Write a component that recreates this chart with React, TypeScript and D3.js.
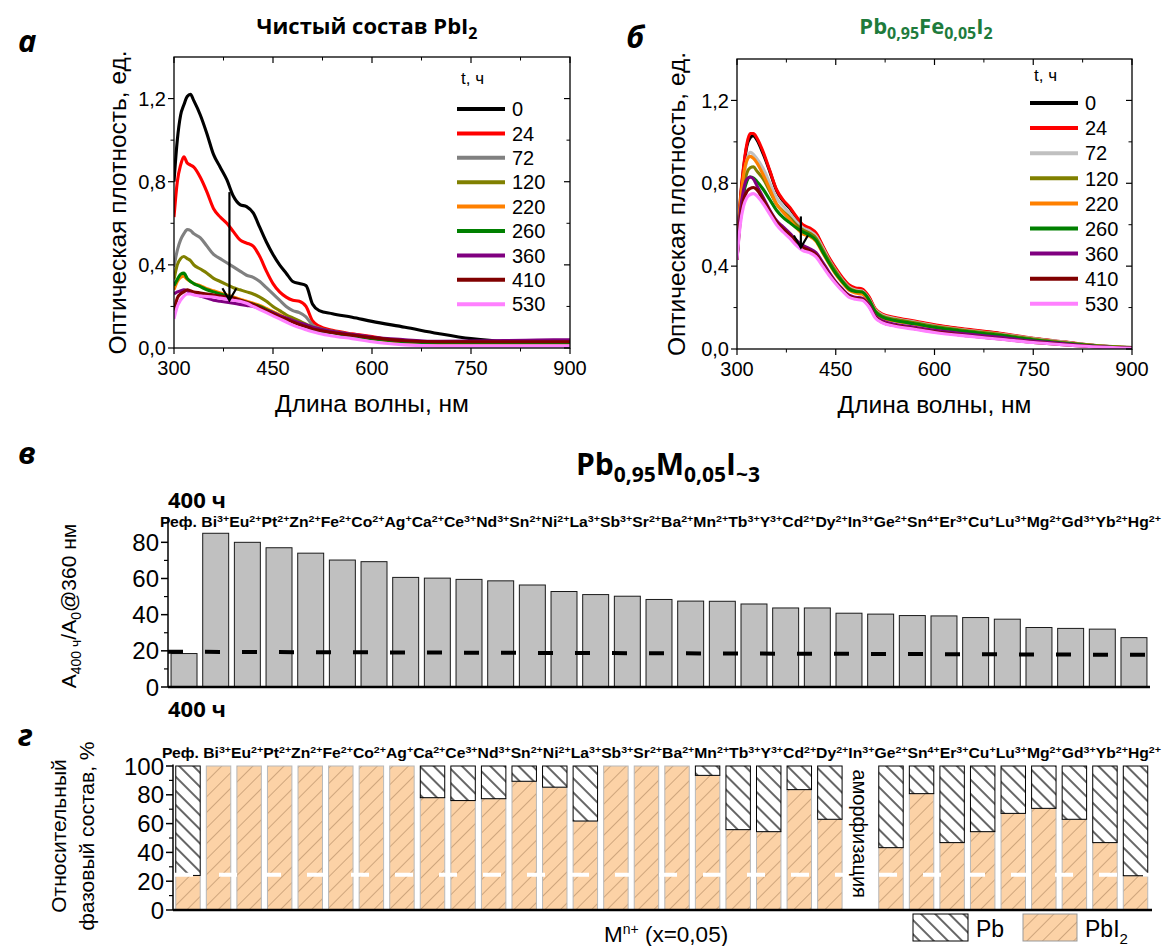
import React from "react";
import * as d3 from "d3";

const W = 1163;
const H = 946;
const ARIAL = "'Liberation Sans', Arial, sans-serif";
const CAL = "'Open Sans', 'Noto Sans', sans-serif";

// ---------- Spectra (panels а, б) ----------
const wl = [300, 305, 310, 315, 320, 325, 330, 340, 350, 360, 370, 380, 390, 400, 410, 420, 430, 440, 450, 460, 470, 480, 490, 500, 510, 520, 540, 570, 600, 650, 700, 750, 800, 850, 900];
const hours = ["0", "24", "72", "120", "220", "260", "360", "410", "530"];
const colorsA = ["#000000", "#ff0000", "#808080", "#808000", "#ff8000", "#008000", "#800080", "#800000", "#ff80ff"];
const colorsB = ["#000000", "#ff0000", "#c0c0c0", "#808000", "#ff8000", "#008000", "#800080", "#800000", "#ff80ff"];

// Panel а: pure PbI2
const a0 = [0.80, 1.00, 1.12, 1.17, 1.21, 1.22, 1.19, 1.12, 1.03, 0.93, 0.87, 0.81, 0.73, 0.69, 0.68, 0.65, 0.58, 0.51, 0.45, 0.40, 0.36, 0.32, 0.31, 0.30, 0.21, 0.18, 0.165, 0.148, 0.128, 0.10, 0.07, 0.045, 0.032, 0.03, 0.03];
const a24 = [0.63, 0.80, 0.88, 0.92, 0.89, 0.88, 0.87, 0.82, 0.75, 0.67, 0.63, 0.60, 0.56, 0.52, 0.505, 0.49, 0.44, 0.37, 0.31, 0.27, 0.245, 0.23, 0.225, 0.20, 0.13, 0.105, 0.085, 0.068, 0.055, 0.028, 0.02, 0.02, 0.022, 0.022, 0.022];
const a72 = [0.39, 0.47, 0.52, 0.55, 0.57, 0.565, 0.55, 0.53, 0.49, 0.45, 0.43, 0.41, 0.39, 0.37, 0.35, 0.34, 0.32, 0.29, 0.26, 0.23, 0.20, 0.18, 0.17, 0.15, 0.11, 0.095, 0.08, 0.065, 0.05, 0.027, 0.02, 0.02, 0.02, 0.02, 0.02];
const a120 = [0.33, 0.40, 0.43, 0.44, 0.43, 0.42, 0.40, 0.38, 0.36, 0.335, 0.32, 0.305, 0.29, 0.28, 0.27, 0.26, 0.245, 0.225, 0.20, 0.18, 0.16, 0.145, 0.13, 0.115, 0.10, 0.092, 0.08, 0.063, 0.048, 0.027, 0.02, 0.02, 0.02, 0.02, 0.02];
const a220 = [0.28, 0.32, 0.34, 0.345, 0.33, 0.32, 0.31, 0.30, 0.285, 0.275, 0.265, 0.255, 0.245, 0.235, 0.225, 0.215, 0.205, 0.19, 0.175, 0.16, 0.145, 0.13, 0.115, 0.105, 0.092, 0.085, 0.075, 0.06, 0.045, 0.028, 0.022, 0.022, 0.022, 0.022, 0.022];
const a260 = [0.30, 0.33, 0.355, 0.36, 0.335, 0.32, 0.31, 0.295, 0.28, 0.27, 0.26, 0.25, 0.24, 0.23, 0.22, 0.21, 0.20, 0.185, 0.17, 0.155, 0.14, 0.128, 0.115, 0.103, 0.09, 0.083, 0.073, 0.058, 0.045, 0.03, 0.025, 0.025, 0.025, 0.025, 0.025];
const a360 = [0.26, 0.27, 0.275, 0.28, 0.275, 0.265, 0.26, 0.25, 0.24, 0.23, 0.225, 0.22, 0.215, 0.21, 0.205, 0.20, 0.19, 0.18, 0.17, 0.155, 0.145, 0.133, 0.122, 0.112, 0.10, 0.092, 0.08, 0.065, 0.052, 0.04, 0.032, 0.033, 0.036, 0.038, 0.04];
const a410 = [0.18, 0.24, 0.26, 0.27, 0.28, 0.275, 0.27, 0.265, 0.26, 0.255, 0.25, 0.245, 0.24, 0.23, 0.22, 0.21, 0.195, 0.18, 0.165, 0.15, 0.138, 0.125, 0.113, 0.103, 0.092, 0.085, 0.075, 0.062, 0.05, 0.035, 0.03, 0.03, 0.03, 0.03, 0.03];
const a530 = [0.14, 0.20, 0.23, 0.25, 0.26, 0.26, 0.255, 0.25, 0.248, 0.245, 0.24, 0.235, 0.23, 0.225, 0.215, 0.20, 0.185, 0.17, 0.155, 0.14, 0.125, 0.11, 0.098, 0.088, 0.078, 0.07, 0.058, 0.045, 0.03, 0.015, 0.01, 0.01, 0.01, 0.01, 0.01];

// Panel б: Pb0.95Fe0.05I2
const b0 = [0.43, 0.71, 0.87, 0.98, 1.02, 1.03, 1.01, 0.94, 0.855, 0.765, 0.715, 0.68, 0.635, 0.595, 0.58, 0.555, 0.495, 0.435, 0.385, 0.34, 0.305, 0.29, 0.285, 0.25, 0.19, 0.165, 0.148, 0.131, 0.114, 0.092, 0.074, 0.05, 0.032, 0.015, 0.006];
const b24 = [0.43, 0.72, 0.88, 0.99, 1.04, 1.04, 1.02, 0.95, 0.86, 0.77, 0.72, 0.685, 0.64, 0.60, 0.585, 0.56, 0.50, 0.44, 0.39, 0.345, 0.31, 0.295, 0.29, 0.255, 0.195, 0.17, 0.152, 0.135, 0.117, 0.095, 0.076, 0.052, 0.033, 0.015, 0.006];
const b72 = [0.43, 0.68, 0.82, 0.91, 0.95, 0.94, 0.92, 0.87, 0.80, 0.73, 0.69, 0.655, 0.615, 0.585, 0.57, 0.545, 0.49, 0.43, 0.38, 0.335, 0.30, 0.285, 0.28, 0.245, 0.19, 0.165, 0.147, 0.13, 0.112, 0.09, 0.072, 0.05, 0.032, 0.016, 0.008];
const b120 = [0.43, 0.66, 0.78, 0.85, 0.875, 0.88, 0.86, 0.82, 0.76, 0.70, 0.665, 0.635, 0.60, 0.575, 0.56, 0.535, 0.48, 0.425, 0.375, 0.33, 0.295, 0.28, 0.275, 0.24, 0.185, 0.16, 0.143, 0.127, 0.11, 0.088, 0.07, 0.048, 0.03, 0.015, 0.007];
const b220 = [0.43, 0.70, 0.84, 0.91, 0.93, 0.92, 0.90, 0.84, 0.77, 0.70, 0.66, 0.625, 0.585, 0.555, 0.545, 0.52, 0.465, 0.41, 0.36, 0.32, 0.285, 0.27, 0.265, 0.23, 0.175, 0.15, 0.135, 0.12, 0.103, 0.082, 0.064, 0.044, 0.028, 0.013, 0.005];
const b260 = [0.43, 0.64, 0.75, 0.81, 0.83, 0.825, 0.81, 0.77, 0.72, 0.67, 0.635, 0.61, 0.585, 0.565, 0.55, 0.525, 0.47, 0.415, 0.365, 0.325, 0.29, 0.278, 0.275, 0.24, 0.18, 0.155, 0.138, 0.122, 0.105, 0.084, 0.066, 0.045, 0.028, 0.013, 0.005];
const b360 = [0.43, 0.66, 0.77, 0.82, 0.83, 0.82, 0.79, 0.73, 0.67, 0.62, 0.59, 0.56, 0.525, 0.50, 0.485, 0.465, 0.42, 0.37, 0.325, 0.29, 0.26, 0.25, 0.245, 0.215, 0.16, 0.137, 0.12, 0.105, 0.09, 0.072, 0.056, 0.038, 0.024, 0.011, 0.004];
const b410 = [0.43, 0.62, 0.72, 0.76, 0.775, 0.78, 0.77, 0.72, 0.665, 0.615, 0.58, 0.55, 0.515, 0.49, 0.475, 0.455, 0.41, 0.36, 0.32, 0.285, 0.255, 0.245, 0.24, 0.21, 0.155, 0.13, 0.113, 0.098, 0.083, 0.064, 0.048, 0.032, 0.02, 0.01, 0.004];
const b530 = [0.43, 0.60, 0.69, 0.73, 0.745, 0.75, 0.74, 0.70, 0.65, 0.60, 0.565, 0.535, 0.50, 0.475, 0.465, 0.445, 0.40, 0.355, 0.315, 0.28, 0.25, 0.24, 0.235, 0.205, 0.15, 0.127, 0.11, 0.095, 0.08, 0.062, 0.047, 0.031, 0.019, 0.009, 0.003];

const seriesA = [a0, a24, a72, a120, a220, a260, a360, a410, a530];
const seriesB = [b0, b24, b72, b120, b220, b260, b360, b410, b530];
const arrowA = [384, 0.75, 0.23]; // wavelength, from, to
const arrowB = [397, 0.64, 0.49];

const xTicksMajor = [300, 450, 600, 750, 900];
const xTicksMinor = [375, 525, 675, 825];
const yTicksMajor = [0, 0.4, 0.8, 1.2];
const yTicksMinor = [0.2, 0.6, 1.0];

// ---------- Panels в, г ----------
const ions = ["Реф.", "Bi", "Eu", "Pt", "Zn", "Fe", "Co", "Ag", "Ca", "Ce", "Nd", "Sn", "Ni", "La", "Sb", "Sr", "Ba", "Mn", "Tb", "Y", "Cd", "Dy", "In", "Ge", "Sn", "Er", "Cu", "Lu", "Mg", "Gd", "Yb", "Hg"];
const charges = ["", "3+", "2+", "2+", "2+", "2+", "2+", "+", "2+", "3+", "3+", "2+", "2+", "3+", "3+", "2+", "2+", "2+", "3+", "3+", "2+", "2+", "3+", "2+", "4+", "3+", "+", "3+", "2+", "3+", "2+", "2+"];
// A400ч/A0 @360 nm, %
const ratioValues = [18.5, 85, 80, 77, 74, 70.2, 69.3, 60.6, 60.2, 59.5, 58.7, 56.4, 52.8, 51.1, 50.2, 48.4, 47.5, 47.4, 45.9, 43.7, 43.7, 40.8, 40.3, 39.5, 39.3, 38.4, 37.5, 32.9, 32.4, 32.0, 27.3];
const ratioRefLine = [19.5, 17.8];
const ratioTicks = [0, 20, 40, 60, 80];
const ratioMinor = [10, 30, 50, 70];
// PbI2 share, % (rest is Pb); null = amorphization
const pbi2Share = [24, 100, 100, 100, 100, 100, 100, 100, 78, 76, 77.3, 89.4, 85.3, 61.8, 100, 100, 100, 93.5, 55.8, 54.4, 83.6, 63, null, 43.3, 80.8, 46.8, 54.4, 67.1, 70.6, 63, 46.8, 23.8];
const phaseRefLine = [24.5, 24.5];
const phaseTicks = [0, 20, 40, 60, 80, 100];
const phaseMinor = [10, 30, 50, 70, 90];

const fmtC = (v) => d3.format(".1f")(v).replace(".", ",");

function Spectrum({ id, left, right, top, bottom, series, colors, legX, legY, legStep, titleY, arrow, labelX }) {
  const x = d3.scaleLinear().domain([300, 900]).range([left, right]);
  const y = d3.scaleLinear().domain([0, 1.4]).range([bottom, top]);
  const line = d3.line().x((_, i) => x(wl[i])).y((d) => y(d)).curve(d3.curveMonotoneX);
  const ax = x(arrow[0]);
  const ay1 = y(arrow[1]);
  const ay2 = y(arrow[2]);
  return (
    <g>
      <defs>
        <clipPath id={id}>
          <rect x={left} y={top} width={right - left} height={bottom - top} />
        </clipPath>
      </defs>
      <g clipPath={`url(#${id})`}>
        {series.map((s, k) => (
          <path key={k} d={line(s)} fill="none" stroke={colors[k]} strokeWidth={3.1} strokeLinejoin="round" />
        ))}
      </g>
      <rect x={left} y={top} width={right - left} height={bottom - top} fill="none" stroke="#000" strokeWidth={1.3} />
      {xTicksMajor.map((t) => (
        <g key={"xM" + t}>
          <line x1={x(t)} x2={x(t)} y1={bottom} y2={bottom + 6} stroke="#000" strokeWidth={1.2} />
          <line x1={x(t)} x2={x(t)} y1={top} y2={top + 6} stroke="#000" strokeWidth={1.2} />
          <text x={x(t)} y={bottom + 27} textAnchor="middle" fontFamily={ARIAL} fontSize={20}>{t}</text>
        </g>
      ))}
      {xTicksMinor.map((t) => (
        <g key={"xm" + t}>
          <line x1={x(t)} x2={x(t)} y1={bottom} y2={bottom + 3.5} stroke="#000" strokeWidth={1} />
          <line x1={x(t)} x2={x(t)} y1={top} y2={top + 3.5} stroke="#000" strokeWidth={1} />
        </g>
      ))}
      {yTicksMajor.map((t) => (
        <g key={"yM" + t}>
          <line x1={left - 6} x2={left} y1={y(t)} y2={y(t)} stroke="#000" strokeWidth={1.2} />
          <line x1={right - 6} x2={right} y1={y(t)} y2={y(t)} stroke="#000" strokeWidth={1.2} />
          <text x={left - 8} y={y(t)} dy="0.36em" textAnchor="end" fontFamily={ARIAL} fontSize={20}>{fmtC(t)}</text>
        </g>
      ))}
      {yTicksMinor.map((t) => (
        <g key={"ym" + t}>
          <line x1={left - 3.5} x2={left} y1={y(t)} y2={y(t)} stroke="#000" strokeWidth={1} />
          <line x1={right - 3.5} x2={right} y1={y(t)} y2={y(t)} stroke="#000" strokeWidth={1} />
        </g>
      ))}
      <text x={(left + right) / 2} y={bottom + 64} textAnchor="middle" fontFamily={ARIAL} fontSize={24.5}>Длина волны, нм</text>
      <text transform={`translate(${labelX},${(top + bottom) / 2}) rotate(-90)`} textAnchor="middle" fontFamily={ARIAL} fontSize={24.5}>Оптическая плотность, ед.</text>
      <line x1={ax} x2={ax} y1={ay1} y2={ay2} stroke="#000" strokeWidth={2.2} />
      <polyline points={`${ax - 7},${ay2 - 12} ${ax},${ay2} ${ax + 7},${ay2 - 12}`} fill="none" stroke="#000" strokeWidth={2.2} />
      <text x={legX + 4} y={titleY} fontFamily={ARIAL} fontSize={17}>t, ч</text>
      {hours.map((h, k) => (
        <g key={"lg" + h}>
          <line x1={legX} x2={legX + 48} y1={legY + k * legStep} y2={legY + k * legStep} stroke={colors[k]} strokeWidth={4} />
          <text x={legX + 55} y={legY + k * legStep} dy="0.36em" fontFamily={ARIAL} fontSize={20}>{h}</text>
        </g>
      ))}
    </g>
  );
}

function IonRow({ x0, width, y }) {
  return (
    <text x={x0} y={y} fontFamily={ARIAL} fontWeight="bold" fontSize={14} textLength={width} lengthAdjust="spacingAndGlyphs">
      {ions.map((n, i) => (
        <React.Fragment key={i}>
          <tspan dy={i > 0 && charges[i - 1] ? 5 : 0} fontSize={14}>{i === 0 ? n + " " : n}</tspan>
          {charges[i] ? <tspan dy={-5} fontSize={9.5}>{charges[i]}</tspan> : null}
        </React.Fragment>
      ))}
    </text>
  );
}

export default function App() {
  // panel в
  const vLeft = 168;
  const vRight = 1150;
  const yV = d3.scaleLinear().domain([0, 94]).range([687, 517]);
  const xV = d3.scaleBand().domain(d3.range(ratioValues.length)).range([168.2, 1149.8]).paddingInner(0.18).paddingOuter(0.09);
  // panel г
  const gLeft = 173;
  const gRight = 1152;
  const yG = d3.scaleLinear().domain([0, 100]).range([910, 766]);
  const xG = d3.scaleBand().domain(d3.range(ions.length)).range([172.7, 1150.8]).paddingInner(0.2).paddingOuter(0.1);
  const amorphIdx = pbi2Share.findIndex((v) => v === null);

  return (
    <svg width={W} height={H} viewBox={`0 0 ${W} ${H}`} style={{ position: "absolute", left: 0, top: 0, background: "#fff" }}>
      <defs>
        <pattern id="pbHatch" patternUnits="userSpaceOnUse" width={10} height={10} patternTransform="rotate(-45)">
          <rect width={10} height={10} fill="#fff" />
          <line x1={5} y1={0} x2={5} y2={10} stroke="#000" strokeWidth={1.2} />
        </pattern>
        <pattern id="pbi2Hatch" patternUnits="userSpaceOnUse" width={11} height={11} patternTransform="rotate(45)">
          <rect width={11} height={11} fill="#fcd2a6" />
          <line x1={5.5} y1={0} x2={5.5} y2={11} stroke="#c49a72" strokeWidth={0.8} />
        </pattern>
      </defs>
      <rect width={W} height={H} fill="#fff" />

      {/* Panel letters */}
      <text x={18} y={52} fontFamily={CAL} fontWeight="bold" fontStyle="italic" fontSize={31}>а</text>
      <text x={626} y={48} fontFamily={CAL} fontWeight="bold" fontStyle="italic" fontSize={31}>б</text>
      <text x={18} y={464} fontFamily={CAL} fontWeight="bold" fontStyle="italic" fontSize={31}>в</text>
      <text x={18} y={746} fontFamily={CAL} fontWeight="bold" fontStyle="italic" fontSize={31}>г</text>

      {/* Titles */}
      <text x={367} y={34} textAnchor="middle" fontFamily={CAL} fontWeight="bold" fontSize={22}>
        Чистый состав PbI<tspan dy={5} fontSize={16}>2</tspan>
      </text>
      <text x={926} y={34} textAnchor="middle" fontFamily={CAL} fontWeight="bold" fontSize={22} fill="#1e7b3c">
        Pb<tspan dy={5} fontSize={16}>0,95</tspan><tspan dy={-5}>Fe</tspan><tspan dy={5} fontSize={16}>0,05</tspan><tspan dy={-5}>I</tspan><tspan dy={5} fontSize={16}>2</tspan>
      </text>

      <Spectrum id="clipA" left={174} right={570} top={57} bottom={348} series={seriesA} colors={colorsA}
        legX={457} legY={109} legStep={24.4} titleY={84} arrow={arrowA} labelX={126} />
      <Spectrum id="clipB" left={737} right={1132} top={59} bottom={349} series={seriesB} colors={colorsB}
        legX={1030} legY={103} legStep={25.1} titleY={81} arrow={arrowB} labelX={685} />

      {/* Panel в */}
      <text x={668} y={475} textAnchor="middle" fontFamily={CAL} fontWeight="bold" fontSize={30}>
        Pb<tspan dy={7} fontSize={21}>0,95</tspan><tspan dy={-7}>M</tspan><tspan dy={7} fontSize={21}>0,05</tspan><tspan dy={-7}>I</tspan><tspan dy={7} fontSize={21}>~3</tspan>
      </text>
      <text x={168} y={508} fontFamily={CAL} fontWeight="bold" fontSize={22}>400 ч</text>
      <IonRow x0={160} width={1001} y={527} />
      {ratioValues.map((v, i) => (
        <rect key={"vb" + i} x={xV(i)} y={yV(v)} width={xV.bandwidth()} height={yV(0) - yV(v)} fill="#c0c0c0" stroke="#1a1a1a" strokeWidth={1} />
      ))}
      <line x1={vLeft} x2={vRight} y1={yV(ratioRefLine[0])} y2={yV(ratioRefLine[1])} stroke="#000" strokeWidth={4} strokeDasharray="15 22" />
      <line x1={vLeft} x2={vLeft} y1={yV(94)} y2={yV(0)} stroke="#000" strokeWidth={1.5} />
      <line x1={vLeft} x2={vRight} y1={yV(0)} y2={yV(0)} stroke="#000" strokeWidth={2.5} />
      {ratioTicks.map((t) => (
        <g key={"vt" + t}>
          <line x1={vLeft - 7} x2={vLeft} y1={yV(t)} y2={yV(t)} stroke="#000" strokeWidth={1.5} />
          <text x={vLeft - 9} y={yV(t)} dy="0.36em" textAnchor="end" fontFamily={ARIAL} fontSize={24}>{t}</text>
        </g>
      ))}
      {ratioMinor.map((t) => (
        <line key={"vm" + t} x1={vLeft - 4} x2={vLeft} y1={yV(t)} y2={yV(t)} stroke="#000" strokeWidth={1.2} />
      ))}
      <text transform={`translate(76,${(yV(0) + yV(94)) / 2 + 4}) rotate(-90)`} textAnchor="middle" fontFamily={ARIAL} fontSize={21}>
        A<tspan dy={5} fontSize={14}>400 ч</tspan><tspan dy={-5}>/A</tspan><tspan dy={5} fontSize={14}>0</tspan><tspan dy={-5}>@360 нм</tspan>
      </text>

      {/* Panel г */}
      <text x={168} y={717} fontFamily={CAL} fontWeight="bold" fontSize={22}>400 ч</text>
      <IonRow x0={162} width={999} y={758} />
      {pbi2Share.map((p, i) =>
        p === null ? null : (
          <g key={"gb" + i}>
            <rect x={xG(i)} y={yG(p)} width={xG.bandwidth()} height={yG(0) - yG(p)} fill="url(#pbi2Hatch)" stroke="#b8b8b8" strokeWidth={1} />
            {p < 100 ? (
              <rect x={xG(i)} y={yG(100)} width={xG.bandwidth()} height={yG(p) - yG(100)} fill="url(#pbHatch)" stroke="#000" strokeWidth={1} />
            ) : null}
          </g>
        )
      )}
      <line x1={gLeft + 2} x2={gRight - 2} y1={yG(phaseRefLine[0])} y2={yG(phaseRefLine[1])} stroke="#fff" strokeWidth={4} strokeDasharray="18 26" />
      <text transform={`translate(${xG(amorphIdx) + xG.bandwidth() / 2},${yG(53)}) rotate(90)`} textAnchor="middle" dy="0.35em" fontFamily={ARIAL} fontSize={20}>аморфизация</text>
      <line x1={gLeft} x2={gLeft} y1={yG(101)} y2={yG(0)} stroke="#000" strokeWidth={1.5} />
      <line x1={gLeft} x2={gRight} y1={yG(0)} y2={yG(0)} stroke="#000" strokeWidth={2.5} />
      {phaseTicks.map((t) => (
        <g key={"gt" + t}>
          <line x1={gLeft - 7} x2={gLeft} y1={yG(t)} y2={yG(t)} stroke="#000" strokeWidth={1.5} />
          <text x={gLeft - 9} y={yG(t)} dy="0.36em" textAnchor="end" fontFamily={ARIAL} fontSize={24}>{t}</text>
        </g>
      ))}
      {phaseMinor.map((t) => (
        <line key={"gm" + t} x1={gLeft - 4} x2={gLeft} y1={yG(t)} y2={yG(t)} stroke="#000" strokeWidth={1.2} />
      ))}
      <text transform={`translate(66,${(yG(0) + yG(100)) / 2 - 2}) rotate(-90)`} textAnchor="middle" fontFamily={ARIAL} fontSize={21}>Относительный</text>
      <text transform={`translate(94,${(yG(0) + yG(100)) / 2 - 2}) rotate(-90)`} textAnchor="middle" fontFamily={ARIAL} fontSize={21}>фазовый состав, %</text>
      <text x={604} y={942} fontFamily={ARIAL} fontSize={22.5}>
        M<tspan dy={-8} fontSize={14}>n+</tspan><tspan dy={8}> (x=0,05)</tspan>
      </text>
      {/* legend */}
      <rect x={913} y={914} width={55} height={27} fill="url(#pbHatch)" stroke="#000" strokeWidth={1} />
      <text x={976} y={937} fontFamily={ARIAL} fontSize={23}>Pb</text>
      <rect x={1023} y={914} width={54} height={27} fill="url(#pbi2Hatch)" stroke="#999" strokeWidth={1} />
      <text x={1085} y={937} fontFamily={ARIAL} fontSize={23}>
        PbI<tspan dy={7} fontSize={15}>2</tspan>
      </text>
    </svg>
  );
}
